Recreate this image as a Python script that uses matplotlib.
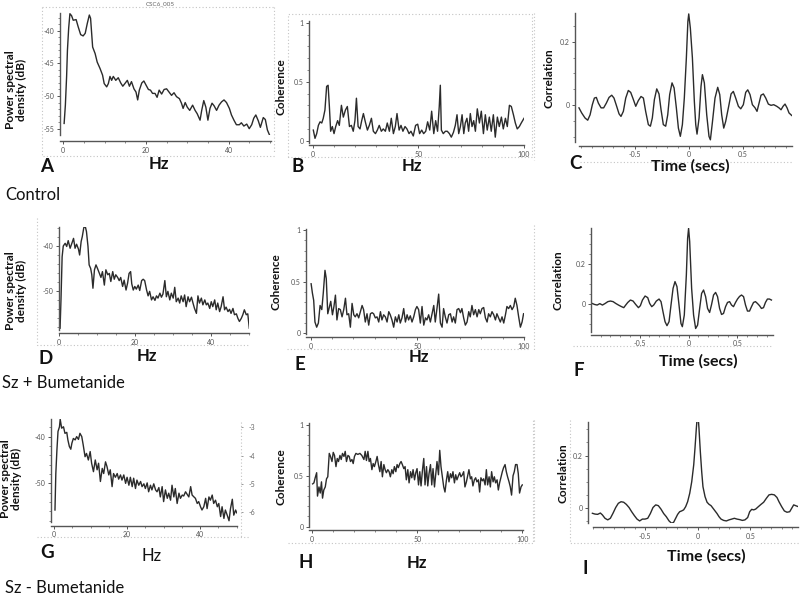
import matplotlib
matplotlib.use('Agg')
import matplotlib.pyplot as plt
from matplotlib.lines import Line2D
from matplotlib.ticker import FixedLocator, MultipleLocator

plt.rcParams['font.family'] = ['Lato', 'DejaVu Sans']

W, H = 800, 596

# ---------------- data ----------------
# A: control PSD (Hz, dB)
a_hz = [0.2, 0.5, 0.8, 1.0, 1.3, 1.6, 2.0, 2.4, 3.1, 3.6, 4.2, 4.8, 5.3, 5.8, 6.3, 6.6, 7.1, 7.7, 8.2, 8.9,
        9.5, 9.9, 10.5, 10.9, 11.3, 11.7, 12.1, 12.7, 13.3, 13.9, 14.4, 14.9, 15.5, 16.0, 16.5, 17.1, 17.6,
        18.0, 18.4, 19.0, 19.5, 20.0, 20.6, 21.1, 21.6, 22.2, 22.7, 23.2, 23.8, 24.4, 25.0, 25.6, 26.2, 26.8,
        27.4, 28.1, 28.6, 29.0, 29.5, 30.0, 30.6, 31.3, 31.9, 32.4, 33.1, 33.5, 34.0, 34.5, 35.0, 35.5, 36.0,
        36.5, 37.1, 37.7, 38.3, 38.9, 39.5, 40.2, 40.7, 41.3, 41.9, 42.6, 43.1, 43.7, 44.4, 45.0, 45.6, 46.1,
        46.6, 47.2, 47.7, 48.4, 48.9, 49.4, 50.0]
a_db = [-54.2, -51.4, -47.0, -43.0, -39.6, -37.4, -37.7, -38.4, -38.3, -39.4, -40.6, -40.8, -40.4, -38.9,
        -37.6, -38.1, -42.5, -43.5, -44.8, -45.8, -46.8, -48.1, -48.6, -48.1, -47.0, -47.6, -47.0, -47.6,
        -47.2, -48.0, -48.5, -48.1, -47.6, -48.5, -47.8, -48.9, -49.4, -50.6, -49.1, -48.0, -47.7, -48.3,
        -49.0, -49.1, -49.6, -49.6, -50.2, -49.1, -49.7, -49.0, -48.9, -49.4, -49.9, -49.5, -50.1, -50.4,
        -51.1, -51.9, -51.0, -51.7, -52.2, -51.4, -52.2, -52.7, -53.7, -52.2, -50.7, -51.7, -53.7, -51.9,
        -51.1, -51.5, -52.2, -51.4, -50.9, -50.6, -51.0, -51.9, -52.9, -53.7, -54.4, -54.4, -54.1, -54.6,
        -54.3, -55.0, -54.4, -53.4, -52.9, -53.8, -54.8, -53.3, -53.6, -55.2, -56.1]

# B: control coherence
b_hz = [0.3, 1.1, 1.9, 2.7, 3.5, 4.3, 5.0, 5.8, 6.6, 7.3, 7.9, 8.5, 9.3, 10.1, 10.9, 11.8, 12.6, 13.6, 14.5,
        15.5, 16.4, 17.4, 18.3, 19.2, 20.0, 20.7, 21.5, 22.4, 23.2, 24.0, 24.9, 25.9, 26.8, 27.8, 28.7, 29.7,
        30.6, 31.5, 32.5, 33.4, 34.4, 35.3, 36.3, 37.2, 38.2, 39.1, 39.9, 40.9, 41.8, 42.7, 43.7, 44.6, 45.6,
        46.5, 47.6, 48.7, 49.7, 50.6, 51.6, 52.5, 53.5, 54.4, 55.4, 56.3, 57.3, 58.2, 59.1, 59.9, 60.4, 60.9,
        61.8, 62.8, 63.7, 64.7, 65.6, 66.6, 67.5, 68.3, 69.1, 69.9, 70.7, 71.5, 72.2, 73.0, 73.8, 74.6, 75.4,
        76.2, 77.0, 77.9, 78.9, 79.8, 80.8, 81.7, 82.6, 83.6, 84.5, 85.5, 86.4, 87.4, 88.3, 89.3, 90.2, 91.2,
        92.1, 93.1, 94.0, 95.0, 95.9, 96.8, 97.8, 98.7, 100.0]
b_coh = [0.09, 0.02, 0.06, 0.13, 0.16, 0.15, 0.19, 0.26, 0.46, 0.47, 0.29, 0.08, 0.12, 0.06, 0.12, 0.17, 0.13,
         0.30, 0.20, 0.26, 0.29, 0.12, 0.13, 0.08, 0.17, 0.36, 0.12, 0.10, 0.17, 0.23, 0.16, 0.09, 0.13, 0.19,
         0.08, 0.06, 0.09, 0.13, 0.08, 0.10, 0.08, 0.15, 0.08, 0.19, 0.06, 0.12, 0.23, 0.09, 0.13, 0.08, 0.12,
         0.10, 0.06, 0.08, 0.04, 0.13, 0.14, 0.06, 0.09, 0.06, 0.08, 0.16, 0.09, 0.25, 0.06, 0.17, 0.08, 0.29,
         0.47, 0.09, 0.06, 0.08, 0.08, 0.06, 0.03, 0.07, 0.13, 0.22, 0.06, 0.12, 0.22, 0.06, 0.15, 0.19, 0.08,
         0.23, 0.12, 0.17, 0.08, 0.27, 0.15, 0.25, 0.06, 0.22, 0.09, 0.20, 0.08, 0.22, 0.03, 0.20, 0.12, 0.20,
         0.10, 0.19, 0.12, 0.30, 0.29, 0.22, 0.15, 0.10, 0.12, 0.15, 0.19]

# C: control cross-correlation (secs)
c_t = [-1.019, -0.994, -0.963, -0.938, -0.916, -0.895, -0.876, -0.858, -0.839, -0.814, -0.790, -0.765,
       -0.740, -0.715, -0.694, -0.672, -0.647, -0.629, -0.607, -0.585, -0.561, -0.539, -0.517, -0.492,
       -0.468, -0.443, -0.421, -0.400, -0.375, -0.356, -0.338, -0.319, -0.297, -0.276, -0.257, -0.236,
       -0.214, -0.195, -0.177, -0.155, -0.136, -0.115, -0.096, -0.078, -0.059, -0.041, -0.022, -0.008,
       0.0, 0.015, 0.034, 0.052, 0.065, 0.077, 0.096, 0.114, 0.127, 0.145, 0.167, 0.188, 0.201, 0.219,
       0.244, 0.269, 0.288, 0.306, 0.325, 0.343, 0.368, 0.393, 0.414, 0.436, 0.461, 0.483, 0.507, 0.529,
       0.548, 0.569, 0.591, 0.616, 0.634, 0.653, 0.671, 0.693, 0.715, 0.739, 0.764, 0.789, 0.817, 0.838,
       0.857, 0.876, 0.894, 0.913, 0.931, 0.956]
c_r = [-0.009, -0.025, -0.041, -0.048, -0.031, 0.001, 0.022, 0.024, 0.006, -0.009, -0.009, 0.006, 0.024,
       0.031, 0.022, -0.001, -0.028, -0.036, -0.020, 0.022, 0.046, 0.040, 0.020, -0.004, 0.014, 0.027,
       0.022, -0.020, -0.062, -0.067, -0.041, 0.017, 0.051, 0.035, -0.015, -0.062, -0.067, -0.031, 0.033,
       0.070, 0.054, -0.009, -0.073, -0.099, -0.062, 0.022, 0.149, 0.264, 0.288, 0.243, 0.149, 0.012,
       -0.062, -0.092, -0.041, 0.059, 0.096, 0.070, -0.031, -0.099, -0.110, -0.057, 0.022, 0.056, 0.033,
       -0.031, -0.073, -0.052, -0.009, 0.035, 0.043, 0.022, -0.004, -0.012, 0.001, 0.040, 0.048, 0.033,
       0.001, -0.009, -0.020, 0.006, 0.031, 0.035, 0.022, 0.003, -0.001, 0.001, -0.004, -0.009, -0.015,
       -0.004, 0.003, -0.009, -0.025, -0.033]

# D: Sz + bumetanide PSD
d_hz = [0.26, 0.5, 0.8, 1.1, 1.6, 2.0, 2.4, 2.9, 3.4, 3.8, 4.2, 4.6, 5.1, 5.4, 5.8, 6.1, 6.5, 6.9, 7.2, 7.6,
        7.9, 8.3, 8.6, 8.9, 9.3, 9.7, 10.1, 10.6, 11.0, 11.4, 11.9, 12.3, 12.8, 13.2, 13.6, 14.1, 14.5, 14.9,
        15.4, 15.8, 16.2, 16.7, 17.1, 17.6, 18.0, 18.4, 18.8, 19.1, 19.5, 19.9, 20.3, 20.8, 21.2, 21.7, 22.1,
        22.5, 23.0, 23.4, 23.8, 24.3, 24.7, 25.2, 25.6, 26.0, 26.5, 26.9, 27.3, 27.8, 28.2, 28.6, 29.1, 29.5,
        30.0, 30.4, 30.8, 31.3, 31.7, 32.1, 32.6, 33.0, 33.4, 33.9, 34.3, 34.8, 35.2, 35.6, 36.1, 36.5, 36.9,
        37.4, 37.8, 38.3, 38.7, 39.1, 39.6, 40.0, 40.4, 40.9, 41.3, 41.7, 42.2, 42.6, 43.1, 43.5, 43.9, 44.4,
        44.8, 45.2, 45.7, 46.1, 46.6, 47.0, 47.4, 47.9, 48.3, 48.7, 49.2, 49.6, 50.0]
d_db = [-58.3, -52.0, -42.4, -40.0, -39.4, -40.1, -38.8, -40.5, -39.3, -38.3, -40.5, -39.6, -40.7, -42.0,
        -39.0, -37.9, -35.9, -35.7, -36.8, -40.1, -44.2, -45.0, -46.4, -49.4, -45.3, -44.2, -45.0, -46.1,
        -47.0, -45.7, -48.7, -45.3, -46.4, -46.1, -47.9, -45.7, -47.4, -46.4, -47.0, -47.7, -47.0, -49.0,
        -47.6, -49.8, -48.3, -46.1, -45.7, -48.4, -49.8, -49.0, -49.6, -48.7, -49.9, -47.7, -47.4, -47.7,
        -49.8, -51.1, -50.1, -52.0, -51.3, -52.1, -51.1, -51.6, -50.5, -51.4, -50.7, -47.7, -51.3, -50.1,
        -52.0, -50.5, -51.6, -49.2, -52.4, -51.6, -52.7, -51.1, -52.4, -50.9, -53.5, -51.3, -52.4, -51.4,
        -52.7, -53.9, -55.0, -51.1, -52.7, -51.6, -53.1, -52.0, -53.1, -52.7, -53.9, -52.4, -53.5, -52.0,
        -54.2, -52.7, -54.6, -53.5, -51.3, -54.2, -53.6, -54.6, -54.1, -55.0, -53.9, -55.3, -55.1, -56.1,
        -56.8, -56.1, -55.3, -54.2, -55.3, -55.1, -58.3]

# E: Sz + bumetanide coherence
e_hz = [0.2, 0.8, 1.4, 2.0, 2.8, 3.6, 4.4, 5.2, 5.9, 6.7, 7.3, 8.0, 8.8, 9.4, 10.2, 10.9, 11.6, 12.3, 13.1,
        13.9, 14.7, 15.5, 16.3, 17.0, 17.8, 18.6, 19.4, 20.2, 20.9, 21.7, 22.5, 23.3, 24.1, 24.8, 25.6, 26.4,
        27.2, 28.0, 28.8, 29.5, 30.3, 31.1, 31.9, 32.7, 33.4, 34.2, 35.0, 35.8, 36.6, 37.3, 38.1, 38.9, 39.7,
        40.5, 41.3, 42.0, 42.8, 43.6, 44.4, 45.2, 45.9, 46.7, 47.5, 48.3, 49.1, 49.8, 50.6, 51.4, 52.2, 53.0,
        53.8, 54.5, 55.3, 56.1, 56.9, 57.7, 58.4, 59.2, 60.0, 60.8, 61.6, 62.3, 63.1, 63.9, 64.7, 65.5, 66.3,
        67.0, 67.8, 68.6, 69.4, 70.2, 70.9, 71.7, 72.5, 73.3, 74.1, 74.8, 75.6, 76.4, 77.2, 78.0, 78.8, 79.5,
        80.3, 81.1, 81.9, 82.7, 83.4, 84.2, 85.0, 85.8, 86.6, 87.3, 88.1, 88.9, 89.7, 90.5, 91.3, 92.0, 92.8,
        93.6, 94.4, 95.2, 95.9, 96.7, 97.5, 98.3, 99.1, 99.8]
e_coh = [0.48, 0.39, 0.32, 0.11, 0.06, 0.10, 0.27, 0.23, 0.39, 0.61, 0.53, 0.19, 0.26, 0.31, 0.18, 0.26, 0.37,
         0.13, 0.24, 0.23, 0.16, 0.23, 0.34, 0.18, 0.19, 0.06, 0.29, 0.18, 0.16, 0.19, 0.15, 0.21, 0.27, 0.23,
         0.11, 0.19, 0.08, 0.19, 0.20, 0.19, 0.15, 0.16, 0.11, 0.21, 0.13, 0.18, 0.16, 0.11, 0.21, 0.18, 0.13,
         0.06, 0.16, 0.11, 0.18, 0.10, 0.15, 0.24, 0.11, 0.18, 0.13, 0.17, 0.11, 0.16, 0.23, 0.26, 0.23, 0.10,
         0.26, 0.08, 0.15, 0.13, 0.18, 0.11, 0.19, 0.27, 0.11, 0.24, 0.38, 0.10, 0.06, 0.24, 0.16, 0.10, 0.18,
         0.19, 0.11, 0.16, 0.10, 0.23, 0.24, 0.20, 0.24, 0.15, 0.08, 0.11, 0.21, 0.16, 0.27, 0.18, 0.23, 0.16,
         0.23, 0.19, 0.24, 0.25, 0.15, 0.11, 0.19, 0.16, 0.21, 0.18, 0.13, 0.19, 0.15, 0.11, 0.16, 0.10, 0.18,
         0.26, 0.24, 0.27, 0.23, 0.26, 0.34, 0.27, 0.16, 0.06, 0.11, 0.19]

# F: Sz + bumetanide cross-correlation
f_t = [-0.986, -0.962, -0.935, -0.908, -0.881, -0.853, -0.826, -0.799, -0.772, -0.745, -0.717, -0.690,
       -0.663, -0.643, -0.622, -0.595, -0.568, -0.541, -0.513, -0.493, -0.472, -0.445, -0.418, -0.398,
       -0.377, -0.357, -0.330, -0.302, -0.282, -0.262, -0.241, -0.221, -0.200, -0.180, -0.159, -0.139,
       -0.119, -0.098, -0.078, -0.064, -0.044, -0.023, -0.010, 0.0, 0.011, 0.031, 0.051, 0.072, 0.092, 0.113,
       0.133, 0.153, 0.174, 0.194, 0.215, 0.235, 0.255, 0.276, 0.296, 0.317, 0.337, 0.357, 0.378, 0.398,
       0.419, 0.439, 0.459, 0.480, 0.500, 0.521, 0.541, 0.562, 0.582, 0.602, 0.623, 0.643, 0.664, 0.684,
       0.704, 0.725, 0.745, 0.766, 0.786, 0.806, 0.827, 0.847]
f_r = [0.003, -0.002, -0.005, 0.002, -0.005, 0.003, 0.012, 0.015, 0.012, 0.003, -0.005, -0.012, -0.018,
       -0.005, 0.008, 0.020, 0.015, -0.002, -0.018, -0.008, 0.020, 0.040, 0.032, 0.003, -0.013, -0.005,
       0.015, 0.025, 0.012, -0.038, -0.088, -0.108, -0.088, -0.005, 0.078, 0.112, 0.087, -0.005, -0.097,
       -0.113, -0.055, 0.145, 0.328, 0.378, 0.312, 0.078, -0.055, -0.122, -0.105, -0.022, 0.053, 0.070,
       0.037, -0.022, -0.042, -0.002, 0.045, 0.058, 0.037, -0.022, -0.052, -0.047, -0.013, 0.008, 0.012,
       -0.005, -0.013, 0.008, 0.025, 0.038, 0.045, 0.037, -0.005, -0.035, -0.035, -0.013, 0.008, 0.012,
       0.003, -0.008, -0.022, -0.018, 0.008, 0.025, 0.025, 0.020]

# G: Sz - bumetanide PSD
g_hz = [0.27, 0.5, 0.8, 1.1, 1.5, 1.7, 2.1, 2.6, 3.0, 3.5, 3.8, 4.2, 4.6, 4.9, 5.3, 5.8, 6.2, 6.7, 7.1, 7.6,
        8.0, 8.5, 8.9, 9.4, 9.9, 10.3, 10.8, 11.3, 11.8, 12.2, 12.7, 13.2, 13.6, 14.1, 14.5, 15.0, 15.4, 15.9,
        16.3, 16.8, 17.3, 17.7, 18.2, 18.6, 19.1, 19.6, 20.0, 20.5, 20.9, 21.4, 21.8, 22.3, 22.7, 23.2, 23.7,
        24.1, 24.6, 25.0, 25.5, 25.9, 26.4, 26.8, 27.3, 27.8, 28.2, 28.7, 29.1, 29.6, 30.0, 30.5, 31.0, 31.4,
        31.9, 32.3, 32.8, 33.2, 33.7, 34.2, 34.6, 35.1, 35.5, 36.0, 36.4, 36.9, 37.4, 37.8, 38.3, 38.7, 39.2,
        39.6, 40.1, 40.5, 41.0, 41.5, 41.9, 42.4, 42.8, 43.3, 43.7, 44.2, 44.7, 45.1, 45.6, 46.0, 46.5, 46.9,
        47.4, 47.9, 48.3, 48.8, 49.2, 49.7, 50.0]
g_db = [-55.7, -47.9, -42.9, -38.9, -37.9, -36.3, -38.2, -37.9, -39.3, -39.1, -40.7, -42.1, -42.7, -41.4,
        -40.4, -40.7, -40.0, -40.6, -39.3, -40.0, -41.8, -44.3, -43.6, -45.0, -43.2, -45.7, -47.5, -45.0,
        -47.1, -45.7, -49.6, -46.8, -47.9, -45.4, -46.4, -48.2, -47.1, -50.7, -47.9, -48.7, -47.9, -49.1,
        -48.2, -49.3, -48.2, -50.0, -48.7, -50.4, -48.7, -50.7, -48.9, -51.1, -49.3, -50.4, -49.6, -50.7,
        -50.1, -51.1, -49.9, -51.8, -50.4, -51.4, -50.1, -51.4, -51.8, -50.9, -52.9, -50.7, -53.9, -51.4,
        -53.2, -52.1, -53.6, -50.4, -52.9, -51.1, -54.3, -52.1, -53.2, -52.5, -52.7, -51.8, -52.3, -52.9,
        -50.7, -52.5, -52.9, -53.2, -54.3, -53.9, -55.0, -55.7, -55.0, -53.2, -55.4, -52.9, -53.6, -52.5,
        -54.3, -53.6, -55.0, -54.3, -57.1, -55.0, -57.5, -55.7, -56.8, -58.0, -55.4, -53.4, -56.8, -55.7,
        -56.3]

# H: Sz - bumetanide coherence
h_hz = [0.2, 0.8, 1.4, 2.1, 2.5, 3.2, 3.8, 4.4, 4.9, 5.5, 6.2, 6.8, 7.4, 8.1, 8.7, 9.4, 10.0, 10.6, 11.3,
        11.9, 12.5, 13.2, 13.8, 14.4, 15.1, 15.7, 16.3, 17.0, 17.6, 18.2, 18.9, 19.5, 20.1, 20.8, 21.7, 22.7,
        23.6, 24.6, 25.2, 25.8, 26.5, 27.1, 27.7, 28.4, 29.0, 29.6, 30.3, 30.9, 31.5, 32.2, 32.8, 33.4, 34.1,
        34.7, 35.3, 36.0, 36.6, 37.2, 37.9, 38.5, 39.1, 39.8, 40.4, 41.0, 41.7, 42.3, 42.9, 43.6, 44.2, 44.8,
        45.5, 46.1, 46.8, 47.4, 48.0, 48.7, 49.3, 49.9, 50.6, 51.2, 51.8, 52.5, 53.1, 53.7, 54.4, 55.0, 55.6,
        56.3, 56.9, 57.5, 58.2, 58.8, 59.4, 60.1, 60.7, 61.3, 62.0, 62.6, 63.2, 63.9, 64.5, 65.1, 65.8, 66.4,
        67.0, 67.7, 68.3, 68.9, 69.6, 70.2, 70.8, 71.5, 72.1, 72.7, 73.4, 74.0, 74.6, 75.3, 75.9, 76.5, 77.2,
        77.8, 78.4, 79.1, 79.7, 80.3, 81.0, 81.6, 82.3, 82.9, 83.5, 84.2, 84.8, 85.4, 86.1, 86.7, 87.3, 88.0,
        88.6, 89.2, 89.9, 90.5, 91.1, 91.8, 92.4, 93.0, 93.7, 94.3, 94.9, 95.6, 96.2, 96.8, 97.5, 98.1, 98.7,
        99.4, 100.0]
h_coh = [0.42, 0.43, 0.48, 0.53, 0.30, 0.39, 0.33, 0.44, 0.28, 0.36, 0.39, 0.47, 0.49, 0.72, 0.69, 0.64, 0.73,
         0.70, 0.59, 0.67, 0.64, 0.70, 0.66, 0.72, 0.69, 0.74, 0.64, 0.70, 0.69, 0.64, 0.66, 0.62, 0.69, 0.72,
         0.71, 0.72, 0.70, 0.66, 0.74, 0.65, 0.74, 0.64, 0.67, 0.56, 0.62, 0.59, 0.64, 0.69, 0.61, 0.54, 0.64,
         0.49, 0.61, 0.56, 0.53, 0.56, 0.54, 0.49, 0.56, 0.52, 0.59, 0.54, 0.61, 0.58, 0.62, 0.64, 0.61, 0.57,
         0.59, 0.46, 0.56, 0.43, 0.54, 0.48, 0.56, 0.46, 0.53, 0.57, 0.41, 0.54, 0.40, 0.56, 0.67, 0.41, 0.59,
         0.40, 0.52, 0.61, 0.41, 0.57, 0.39, 0.52, 0.64, 0.51, 0.75, 0.59, 0.48, 0.39, 0.34, 0.46, 0.54, 0.44,
         0.52, 0.48, 0.54, 0.43, 0.51, 0.46, 0.50, 0.53, 0.49, 0.51, 0.54, 0.39, 0.44, 0.50, 0.56, 0.47, 0.49,
         0.40, 0.46, 0.48, 0.44, 0.46, 0.34, 0.48, 0.45, 0.47, 0.41, 0.56, 0.41, 0.49, 0.39, 0.54, 0.44, 0.49,
         0.43, 0.46, 0.36, 0.43, 0.49, 0.54, 0.58, 0.61, 0.54, 0.49, 0.44, 0.39, 0.31, 0.50, 0.54, 0.61, 0.61,
         0.52, 0.33, 0.39, 0.41]

# I: Sz - bumetanide cross-correlation
i_t = [-1.003, -0.978, -0.953, -0.927, -0.908, -0.883, -0.857, -0.832, -0.807, -0.781, -0.756, -0.730,
       -0.705, -0.680, -0.654, -0.629, -0.603, -0.578, -0.553, -0.527, -0.502, -0.476, -0.451, -0.426,
       -0.400, -0.375, -0.350, -0.324, -0.299, -0.273, -0.248, -0.229, -0.210, -0.191, -0.172, -0.153,
       -0.134, -0.115, -0.096, -0.076, -0.057, -0.038, -0.026, -0.013, 0.0, 0.012, 0.025, 0.038, 0.050,
       0.070, 0.089, 0.108, 0.127, 0.146, 0.165, 0.184, 0.203, 0.222, 0.247, 0.273, 0.298, 0.324, 0.349,
       0.374, 0.400, 0.425, 0.450, 0.476, 0.495, 0.514, 0.533, 0.552, 0.577, 0.603, 0.628, 0.654, 0.679,
       0.704, 0.730, 0.755, 0.774, 0.800, 0.825, 0.850, 0.876, 0.895, 0.914, 0.933, 0.959]
i_r = [-0.019, -0.022, -0.023, -0.018, -0.025, -0.038, -0.044, -0.038, -0.019, 0.003, 0.019, 0.025, 0.023,
       0.015, 0.003, -0.013, -0.028, -0.041, -0.048, -0.041, -0.041, -0.038, -0.020, 0.003, 0.013, 0.010,
       -0.003, -0.020, -0.032, -0.048, -0.057, -0.053, -0.038, -0.023, -0.013, -0.010, -0.006, 0.006, 0.025,
       0.057, 0.101, 0.165, 0.228, 0.304, 0.370, 0.304, 0.215, 0.139, 0.082, 0.044, 0.023, 0.015, 0.010,
       0.0, -0.010, -0.020, -0.032, -0.041, -0.046, -0.048, -0.044, -0.041, -0.038, -0.041, -0.043, -0.046,
       -0.044, -0.035, -0.013, -0.004, -0.006, -0.003, 0.006, 0.015, 0.023, 0.038, 0.051, 0.053, 0.051,
       0.041, 0.025, 0.006, -0.010, -0.015, -0.013, 0.0, 0.013, 0.010, 0.006]

g_right_ticks = [-3, -4, -5, -6]
group_names = ['Control', 'Sz + Bumetanide', 'Sz - Bumetanide']

PSD_LABEL = 'Power spectral\ndensity (dB)'

# ---------------- layout (pixels in the 800x596 picture) ----------------
panels = [
    dict(x=a_hz, y=a_db, box=(60, 13, 270.7, 135), xlim=(-0.8, 50.2), ylim=(-55.97, -37.29), gap=6,
         xt=[0, 20, 40], yt=[-40, -45, -50, -55], xm=5, ym=1),
    dict(x=b_hz, y=b_coh, box=(309.3, 20.7, 524, 143.3), xlim=(-1.6, 100), ylim=(-0.022, 1.017), gap=2,
         xt=[0, 50, 100], yt=[0, 0.5, 1], xm=10, ym=0.1),
    dict(x=c_t, y=c_r, box=(575, 13.3, 791.7, 141.7), xlim=(-1.056, 0.956), ylim=(-0.116, 0.29), gap=4,
         xt=[-0.5, 0, 0.5], yt=[0, 0.2], xm=0.1, ym=0.05, xb=(-1.02, 0.956)),
    dict(x=d_hz, y=d_db, box=(58.7, 226.7, 249.3, 330), xlim=(-0.1, 50), ylim=(-58.7, -35.7), gap=3,
         xt=[0, 20, 40], yt=[-40, -50], xm=5, ym=2),
    dict(x=e_hz, y=e_coh, box=(306, 229.3, 524, 334), xlim=(-2.2, 100), ylim=(-0.006, 1.007), gap=3,
         xt=[0, 50, 100], yt=[0, 0.5, 1], xm=10, ym=0.1),
    dict(x=f_t, y=f_r, box=(591.3, 228.3, 772.7, 331.7), xlim=(-0.995, 0.86), ylim=(-0.138, 0.378), gap=3,
         xt=[-0.5, 0, 0.5], yt=[0, 0.2], xm=0.1, ym=0.05),
    dict(x=g_hz, y=g_db, box=(50.7, 419.3, 236.7, 521.7), xlim=(-0.9, 50), ylim=(-58.2, -36.3), gap=4,
         xt=[0, 20, 40], yt=[-40, -50], xm=5, ym=2),
    dict(x=h_hz, y=h_coh, box=(309.3, 423.3, 522.7, 527.3), xlim=(-1.4, 100.2), ylim=(-0.007, 1.016), gap=3,
         xt=[0, 50, 100], yt=[0, 0.5, 1], xm=10, ym=0.1),
    dict(x=i_t, y=i_r, box=(588.3, 421.7, 798.3, 523.3), xlim=(-1.042, 0.958), ylim=(-0.057, 0.329), gap=4,
         xt=[-0.5, 0, 0.5], yt=[0, 0.2], xm=0.1, ym=0.05, xb=(-1.0, 0.958)),
]

# axis labels: (text, x, y, rotation, size, bold)
labels = [
    (PSD_LABEL, 16, 90, 90, 8.5, True), ('Coherence', 281, 87, 90, 8.5, True), ('Correlation', 549, 78, 90, 8.5, True),
    (PSD_LABEL, 16, 291, 90, 8.5, True), ('Coherence', 276, 282, 90, 8.5, True), ('Correlation', 558, 280, 90, 8.5, True),
    (PSD_LABEL, 11, 479, 90, 8.5, True), ('Coherence', 281, 477, 90, 8.5, True), ('Correlation', 563, 473, 90, 8.5, True),
    ('Hz', 159, 164, 0, 12, True), ('Hz', 412, 166, 0, 12, True), ('Time (secs)', 690, 166, 0, 11.5, True),
    ('Hz', 147, 356, 0, 12, True), ('Hz', 419, 357, 0, 12, True), ('Time (secs)', 698, 361, 0, 11.5, True),
    ('Hz', 152, 556, 0, 12, False), ('Hz', 417, 563, 0, 12, True), ('Time (secs)', 706, 556, 0, 11.5, True),
]
letters = [('A', 47, 166), ('B', 298, 167), ('C', 576, 164),
           ('D', 46, 358), ('E', 300, 365), ('F', 579, 370),
           ('G', 47, 553), ('H', 306, 562), ('I', 585, 569)]
group_pos = [(5, 195), (2, 383), (5, 588)]

# faint dotted frames left over from the source software
frames = [
    [(42, 7), (42, 156), (275, 156)], [(42, 7), (275, 7)],
    [(274, 7), (274, 153)], [(288, 157), (288, 14), (532, 14), (532, 157), (288, 157)],
    [(534, 13), (534, 160)], [(580, 162), (793, 162)],
    [(37, 218), (37, 345), (250, 345)],
    [(287, 349), (528, 349)],
    [(534, 225), (534, 350)], [(573, 346), (773, 346)],
    [(37, 537), (250, 537)], [(241, 422), (241, 537)],
    [(288, 543), (533, 543), (533, 420)],
    [(534, 420), (534, 543)], [(570, 420), (570, 543), (800, 543)],
]

fig = plt.figure(figsize=(8, 5.96), dpi=100)
fig.patch.set_facecolor('white')


def fx(x):
    return x / W


def fy(y):
    return 1 - y / H


def px_axes(left, top, right, bottom):
    return fig.add_axes([fx(left), fy(bottom), (right - left) / W, (bottom - top) / H])


for frame in frames:
    xs = [fx(p[0]) for p in frame]
    ys = [fy(p[1]) for p in frame]
    fig.add_artist(Line2D(xs, ys, transform=fig.transFigure, color='#c4c4c4', lw=0.8,
                          linestyle=(0, (1, 2))))

for p in panels:
    ax = px_axes(*p['box'])
    ax.patch.set_alpha(0)
    ax.plot(p['x'], p['y'], color='#2b2b2b', lw=1.0, solid_joinstyle='round')
    ax.set_xlim(*p['xlim'])
    ax.set_ylim(*p['ylim'])
    for s in ('top', 'right'):
        ax.spines[s].set_visible(False)
    for s in ('left', 'bottom'):
        ax.spines[s].set_color('#555555')
        ax.spines[s].set_linewidth(1.0)
    ax.spines['bottom'].set_position(('outward', p['gap'] * 0.72))
    if 'xb' in p:
        ax.spines['bottom'].set_bounds(*p['xb'])
    ax.xaxis.set_major_locator(FixedLocator(p['xt']))
    ax.set_xticklabels(['%g' % v for v in p['xt']])
    ax.yaxis.set_major_locator(FixedLocator(p['yt']))
    ax.set_yticklabels(['%g' % v for v in p['yt']])
    ax.xaxis.set_minor_locator(MultipleLocator(p['xm']))
    ax.yaxis.set_minor_locator(MultipleLocator(p['ym']))
    ax.tick_params(which='major', length=2.5, width=0.7, color='#555555', labelsize=5,
                   labelcolor='#555555', pad=1.5)
    ax.tick_params(which='minor', length=1.3, width=0.6, color='#777777')

# stray right-hand scale next to panel G
axr = px_axes(240.7, 422, 241.2, 537)
axr.patch.set_alpha(0)
axr.set_ylim(-6.87, -2.81)
axr.set_xticks([])
for s in ('top', 'left', 'bottom', 'right'):
    axr.spines[s].set_visible(False)
axr.yaxis.tick_right()
axr.yaxis.set_major_locator(FixedLocator(g_right_ticks))
axr.set_yticklabels([str(v) for v in g_right_ticks])
axr.tick_params(axis='y', length=1.5, width=0.6, color='#888888', labelsize=5, labelcolor='#666666', pad=4)

for text, x, y, rot, size, bold in labels:
    fig.text(fx(x), fy(y), text, rotation=rot, fontsize=size, ha='center', va='center',
             fontweight='bold' if bold else 'normal', color='#111111', linespacing=1.05)

for text, x, y in letters:
    fig.text(fx(x), fy(y), text, fontsize=13.5, fontweight='bold', ha='center', va='center', color='#111111')

for name, (x, y) in zip(group_names, group_pos):
    fig.text(fx(x), fy(y), name, fontsize=12, ha='left', va='center', color='#111111')

fig.text(fx(160), fy(4), 'CSC6_005', fontsize=4.5, ha='center', va='center', color='#666666')

fig.savefig('out.png', dpi=100, facecolor='white')
